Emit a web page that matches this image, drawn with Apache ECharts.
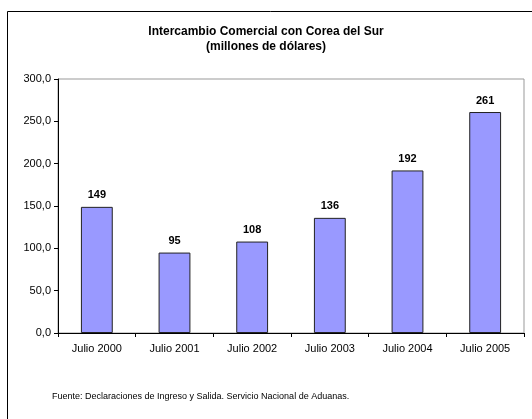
<!DOCTYPE html>
<html>
<head>
<meta charset="utf-8">
<script src="https://cdn.jsdelivr.net/npm/echarts@6/dist/echarts.min.js"></script>
<style>
  html, body { margin: 0; padding: 0; background: #fff; }
  #chart { width: 532px; height: 419px; }
</style>
</head>
<body>
<div id="chart"></div>
<script>
  // datos
  var categorias = ['Julio 2000', 'Julio 2001', 'Julio 2002', 'Julio 2003', 'Julio 2004', 'Julio 2005'];
  var valores = [149, 95, 108, 136, 192, 261];
  var titulo = 'Intercambio Comercial con Corea del Sur\n(millones de dólares)';
  var fuente = 'Fuente: Declaraciones de Ingreso y Salida. Servicio Nacional de Aduanas.';

  var fuenteTexto = '"Liberation Sans", Arial, sans-serif';
  var chart = echarts.init(document.getElementById('chart'));

  var option = {
    animation: false,
    backgroundColor: '#fff',
    title: {
      text: titulo,
      left: 'center',
      top: 19,
      textStyle: {
        fontFamily: fuenteTexto,
        fontSize: 12,
        fontWeight: 'bold',
        color: '#000',
        lineHeight: 15
      }
    },
    graphic: [
      { // marco exterior
        type: 'rect',
        shape: { x: 7.5, y: 11.5, width: 560, height: 440 },
        style: { fill: null, stroke: '#000', lineWidth: 1 },
        silent: true
      },
      {
        type: 'text',
        left: 52,
        top: 392,
        style: {
          text: fuente,
          fontFamily: fuenteTexto,
          fontSize: 9,
          fill: '#000'
        }
      }
    ],
    grid: {
      left: 58,
      right: 8,
      top: 79,
      bottom: 86,
      show: true,
      borderColor: '#999',
      borderWidth: 1
    },
    xAxis: {
      type: 'category',
      data: categorias,
      axisLine: { lineStyle: { color: '#000', width: 1 } },
      axisTick: { show: true, alignWithLabel: false, length: 4, lineStyle: { color: '#000' } },
      axisLabel: {
        fontFamily: fuenteTexto,
        fontSize: 11,
        color: '#000',
        margin: 10
      },
      splitLine: { show: false }
    },
    yAxis: {
      type: 'value',
      min: 0,
      max: 300,
      interval: 50,
      axisLine: { show: true, lineStyle: { color: '#000', width: 1 } },
      axisTick: { show: true, length: 4, lineStyle: { color: '#000' } },
      axisLabel: {
        fontFamily: fuenteTexto,
        fontSize: 11,
        color: '#000',
        margin: 7,
        formatter: function (v) { return v.toFixed(1).replace('.', ','); }
      },
      splitLine: { show: false }
    },
    series: [{
      type: 'bar',
      data: valores,
      barWidth: '41%',
      itemStyle: {
        color: '#9999FF',
        borderColor: '#222',
        borderWidth: 1
      },
      label: {
        show: true,
        position: 'top',
        distance: 6,
        fontFamily: fuenteTexto,
        fontSize: 11,
        fontWeight: 'bold',
        color: '#000'
      }
    }]
  };

  chart.setOption(option);
</script>
</body>
</html>
